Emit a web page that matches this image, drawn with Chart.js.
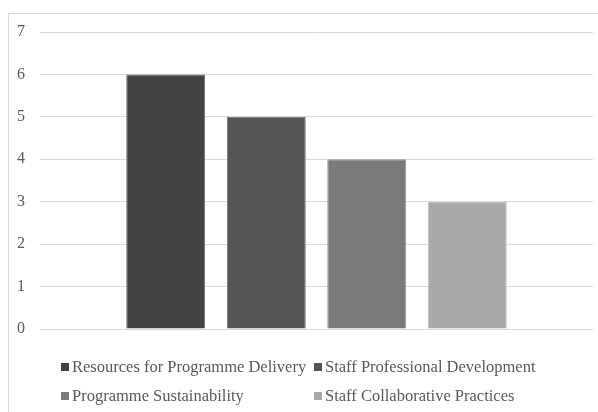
<!DOCTYPE html>
<html>
<head>
<meta charset="utf-8">
<script src="https://cdn.jsdelivr.net/npm/chart.js@4"></script>
<style>
  html, body { margin: 0; padding: 0; background: #fff; }
  #wrap { position: relative; width: 598px; height: 412px; }
</style>
</head>
<body>
<div id="wrap"><canvas id="chart" width="598" height="412"></canvas></div>
<script>
// Data
const categories = [""];
const seriesNames = [
  "Resources for Programme Delivery",
  "Staff Professional Development",
  "Programme Sustainability",
  "Staff Collaborative Practices",
];
const seriesValues = [6, 5, 4, 3];
const seriesColors = ["#434343", "#555555", "#7b7b7b", "#a9a9a9"];
const borderColors = ["#6a6a6a", "#707070", "#949494", "#bdbdbd"];
const yTicks = [0, 1, 2, 3, 4, 5, 6, 7];

const textColor = "#595959";
const serif = "'Liberation Serif', 'Times New Roman', serif";

// frame around the chart + 2 column legend
const framePlugin = {
  id: "frame",
  beforeDraw(chart) {
    const ctx = chart.ctx;
    ctx.save();
    ctx.strokeStyle = "#d9d9d9";
    ctx.lineWidth = 1;
    ctx.strokeRect(8.5, 13.5, 620, 440);
    ctx.restore();
  },
  afterDraw(chart) {
    const ctx = chart.ctx;
    const colX = [61, 314];
    const rowY = [367, 396];
    ctx.save();
    ctx.font = "16.5px " + serif;
    ctx.textBaseline = "middle";
    chart.data.datasets.forEach((ds, i) => {
      const x = colX[i % 2];
      const y = rowY[Math.floor(i / 2)];
      ctx.fillStyle = ds.backgroundColor;
      ctx.fillRect(x, y - 4, 8, 8);
      ctx.fillStyle = textColor;
      ctx.fillText(ds.label, x + 11, y + 1);
    });
    ctx.restore();
  },
};

new Chart(document.getElementById("chart"), {
  type: "bar",
  data: {
    labels: categories,
    datasets: seriesNames.map((name, i) => ({
      label: name,
      data: [seriesValues[i]],
      backgroundColor: seriesColors[i],
      borderColor: borderColors[i],
      borderWidth: 1,
      categoryPercentage: 0.727,
      barPercentage: 0.786,
    })),
  },
  options: {
    responsive: false,
    animation: false,
    layout: { padding: { top: 32, right: 5, bottom: 83, left: 0 } },
    plugins: {
      legend: { display: false },
      tooltip: { enabled: false },
    },
    scales: {
      x: { display: false },
      y: {
        min: yTicks[0],
        max: yTicks[yTicks.length - 1],
        afterFit: (scale) => { scale.width = 40; },
        afterBuildTicks: (scale) => { scale.ticks = yTicks.map((v) => ({ value: v })); },
        border: { display: false },
        grid: { color: "#d9d9d9", lineWidth: 1, drawTicks: false },
        ticks: {
          padding: 15,
          color: textColor,
          font: { family: serif, size: 16 },
        },
      },
    },
  },
  plugins: [framePlugin],
});
</script>
</body>
</html>
